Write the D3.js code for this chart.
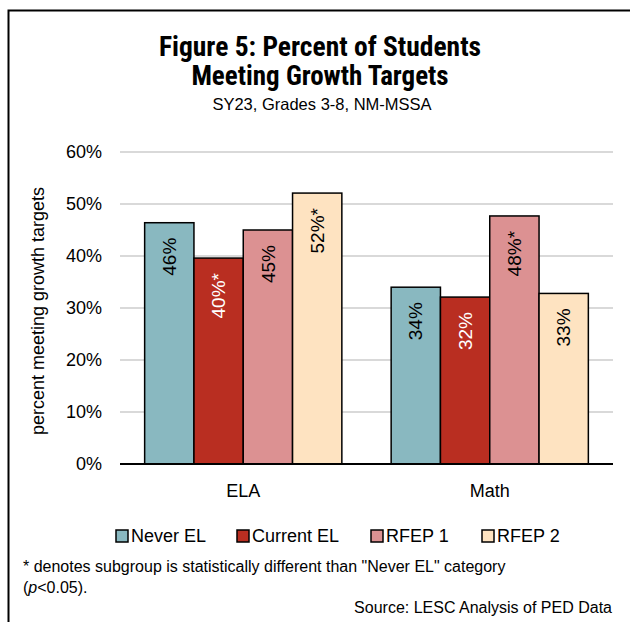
<!DOCTYPE html>
<html>
<head>
<meta charset="utf-8">
<script src="https://cdn.jsdelivr.net/npm/d3@7"></script>
<style>
  body { margin: 0; background: #fff; }
  text { font-family: "Liberation Sans", Arial, sans-serif; fill: #000; }
  .title { font-family: "Liberation Sans Narrow", "Roboto Condensed", "Liberation Sans", sans-serif; font-weight: bold; }
</style>
</head>
<body>
<script>
var subjects = ["ELA", "Math"];
var groups = ["Never EL", "Current EL", "RFEP 1", "RFEP 2"];
var neverEL = [46.4, 34.0];
var currentEL = [39.6, 32.1];
var rfep1 = [45.0, 47.7];
var rfep2 = [52.1, 32.8];
var labels = [["46%", "40%*", "45%", "52%*"], ["34%", "32%", "48%*", "33%"]];
var yTicks = [0, 10, 20, 30, 40, 50, 60];
var colors = ["#89b8c0", "#b92e21", "#dc9192", "#fee3c1"];
var labelColors = ["#000", "#fff", "#000", "#000"];

var width = 630, height = 622;
var series = [neverEL, currentEL, rfep1, rfep2];

var svg = d3.select("body").append("svg")
    .attr("width", width)
    .attr("height", height);

// frame (runs off the right and bottom edges)
svg.append("path")
    .attr("d", "M8.5," + (height + 5) + "V10.5H" + (width + 5))
    .attr("fill", "none")
    .attr("stroke", "#000")
    .attr("stroke-width", 2);

// titles
svg.append("text").attr("class", "title")
    .attr("x", 320).attr("y", 56)
    .attr("text-anchor", "middle")
    .style("font-size", "27.5px")
    .text("Figure 5: Percent of Students");
svg.append("text").attr("class", "title")
    .attr("x", 320).attr("y", 85)
    .attr("text-anchor", "middle")
    .style("font-size", "27px")
    .text("Meeting Growth Targets");
svg.append("text")
    .attr("x", 322).attr("y", 110)
    .attr("text-anchor", "middle")
    .style("font-size", "16.5px")
    .text("SY23, Grades 3-8, NM-MSSA");

var x0 = d3.scaleBand()
    .domain(subjects)
    .range([120, 613])
    .paddingInner(0.2)
    .paddingOuter(0.1);

var x1 = d3.scaleBand()
    .domain(groups)
    .range([0, x0.bandwidth()]);

var y = d3.scaleLinear()
    .domain([0, 60])
    .range([464, 152]);

// gridlines
svg.append("g").selectAll("line")
    .data(yTicks.filter(function(d) { return d > 0; }))
    .enter().append("line")
      .attr("x1", 120).attr("x2", 613)
      .attr("y1", function(d) { return y(d); })
      .attr("y2", function(d) { return y(d); })
      .attr("stroke", "#d9d9d9")
      .attr("stroke-width", 2);

// y axis labels
var yAxis = d3.axisLeft(y)
    .tickValues(yTicks)
    .tickFormat(function(d) { return d + "%"; })
    .tickSize(0)
    .tickPadding(18);

var yg = svg.append("g")
    .attr("transform", "translate(120,0)")
    .call(yAxis);
yg.select(".domain").remove();
yg.selectAll("text")
    .style("font-family", "'Liberation Sans', Arial, sans-serif")
    .style("font-size", "18px")
    .attr("fill", "#000");

svg.append("text")
    .attr("transform", "translate(44,311)rotate(-90)")
    .attr("text-anchor", "middle")
    .style("font-size", "18px")
    .text("percent meeting growth targets");

// bars
var bars = [];
subjects.forEach(function(s, i) {
  groups.forEach(function(g, j) {
    bars.push({subject: s, group: g, gi: j, value: series[j][i], label: labels[i][j]});
  });
});

var bar = svg.append("g").selectAll("g")
    .data(bars)
    .enter().append("g");

bar.append("rect")
    .attr("x", function(d) { return x0(d.subject) + x1(d.group); })
    .attr("y", function(d) { return y(d.value); })
    .attr("width", x1.bandwidth())
    .attr("height", function(d) { return y(0) - y(d.value); })
    .attr("fill", function(d) { return colors[d.gi]; })
    .attr("stroke", "#000")
    .attr("stroke-width", 1.5);

// value labels read bottom-to-top, ending just under the bar top
bar.append("text")
    .attr("transform", function(d) {
      var cx = x0(d.subject) + x1(d.group) + x1.bandwidth() / 2;
      return "translate(" + cx + "," + (y(d.value) + 15) + ")rotate(-90)";
    })
    .attr("text-anchor", "end")
    .attr("dy", "0.35em")
    .style("font-size", "19px")
    .style("fill", function(d) { return labelColors[d.gi]; })
    .text(function(d) { return d.label; });

// baseline
svg.append("line")
    .attr("x1", 120).attr("x2", 613)
    .attr("y1", y(0)).attr("y2", y(0))
    .attr("stroke", "#000")
    .attr("stroke-width", 2);

// category axis
var xAxis = d3.axisBottom(x0).tickSize(0).tickPadding(20);
var xg = svg.append("g")
    .attr("transform", "translate(0," + y(0) + ")")
    .call(xAxis);
xg.select(".domain").remove();
xg.selectAll("text")
    .style("font-family", "'Liberation Sans', Arial, sans-serif")
    .style("font-size", "18px")
    .attr("fill", "#000");

// legend
var legendX = [116, 237, 371, 482];
var legend = svg.append("g").selectAll("g")
    .data(groups)
    .enter().append("g")
      .attr("transform", function(d, i) { return "translate(" + legendX[i] + ",536)"; });

legend.append("rect")
    .attr("x", 0).attr("y", -6)
    .attr("width", 12).attr("height", 12)
    .attr("fill", function(d, i) { return colors[i]; })
    .attr("stroke", "#000")
    .attr("stroke-width", 1.5);

legend.append("text")
    .attr("x", 15)
    .attr("dy", "0.35em")
    .style("font-size", "18px")
    .text(function(d) { return d; });

// footnotes
svg.append("text")
    .attr("x", 23).attr("y", 572)
    .style("font-size", "16px")
    .text('* denotes subgroup is statistically different than "Never EL" category');

var fn2 = svg.append("text")
    .attr("x", 23).attr("y", 593)
    .style("font-size", "16px");
fn2.append("tspan").text("(");
fn2.append("tspan").style("font-style", "italic").text("p");
fn2.append("tspan").text("<0.05).");

svg.append("text")
    .attr("x", 612).attr("y", 613)
    .attr("text-anchor", "end")
    .style("font-size", "16px")
    .text("Source: LESC Analysis of PED Data");
</script>
</body>
</html>
